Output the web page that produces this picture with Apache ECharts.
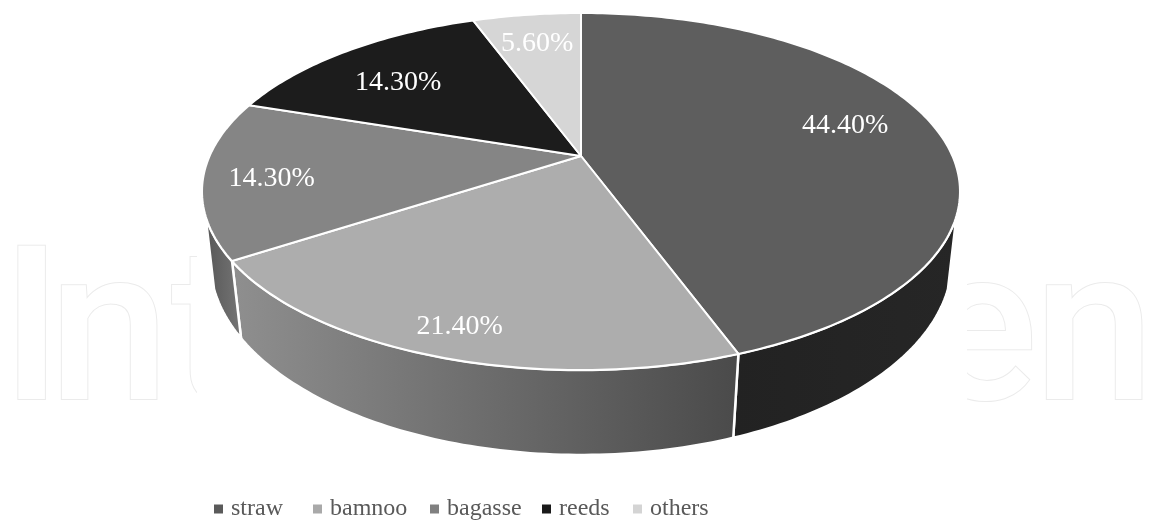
<!DOCTYPE html>
<html>
<head>
<meta charset="utf-8">
<style>html,body{margin:0;padding:0;background:#fff}#c{width:1150px;height:524px}</style>
<script src="https://cdn.jsdelivr.net/npm/echarts@6/dist/echarts.min.js"></script>
</head>
<body>
<div id="c"></div>
<script>
var categories = ['straw', 'bamnoo', 'bagasse', 'reeds', 'others'];
var values = [44.4, 21.4, 14.3, 14.3, 5.6];
var topColors = ['#5e5e5e', '#adadad', '#858585', '#1c1c1c', '#d6d6d6'];
var legendColors = ['#5a5a5a', '#a9a9a9', '#808080', '#1a1a1a', '#d4d4d4'];
var wallColors = [['#222222', '#262626'], ['#8f8f8f', '#4a4a4a'], ['#565656', '#767676'], null, null];
var labelRadius = [0.766, 0.868, 0.822, 0.7215, 0.779];
var labelTurn = [-5, 0, -1, -2.5, 0];
var legendLeft = [214, 313, 430, 542, 633];

// perspective of the disc: top face and bottom face
var topFace = {x: 581, y: 156, a: 371.4, b: 171.4, k: 0.199};
var bottomFace = {x: 581, y: 224, a: 364.6, b: 188, k: 0.186};
var wallFrom = 109, wallTo = 251;

function project(f, deg, r) {
  var t = deg * Math.PI / 180;
  var u = Math.sin(t) * r, v = -Math.cos(t) * r;
  var w = 1 - f.k * v;
  return [f.x + f.a * u / w, f.y + f.b * v / w];
}
function arc(f, d0, d1) {
  var pts = [], n = Math.max(2, Math.ceil(Math.abs(d1 - d0)));
  for (var i = 0; i <= n; i++) pts.push(project(f, d0 + (d1 - d0) * i / n, 1));
  return pts;
}
var total = values.reduce(function (s, v) { return s + v; }, 0);
var running = 0;
var series = categories.map(function (name, i) {
  var start = running; running += values[i];
  return {
    type: 'custom', name: name, coordinateSystem: 'none', z: 5, silent: true,
    itemStyle: {color: legendColors[i]},
    data: [[start, values[i]]],
    renderItem: function (params, api) {
      var d0 = api.value(0) / total * 360, d1 = (api.value(0) + api.value(1)) / total * 360;
      var children = [];
      var a = Math.max(d0, wallFrom), b = Math.min(d1, wallTo);
      if (b > a && wallColors[i]) {
        children.push({
          type: 'polygon', z2: 1,
          shape: {points: arc(topFace, a, b).concat(arc(bottomFace, b, a))},
          style: {
            fill: new echarts.graphic.LinearGradient(0, 0, 1, 0, [
              {offset: 0, color: wallColors[i][0]}, {offset: 1, color: wallColors[i][1]}]),
            stroke: '#fff', lineWidth: 2.5, lineJoin: 'round'
          }
        });
      }
      children.push({
        type: 'polygon', z2: 2,
        shape: {points: [[topFace.x, topFace.y]].concat(arc(topFace, d0, d1))},
        style: {fill: topColors[i], stroke: '#fff', lineWidth: 2, lineJoin: 'round'}
      });
      var p = project(topFace, (d0 + d1) / 2 + labelTurn[i], labelRadius[i]);
      children.push({
        type: 'text', z2: 3, x: p[0], y: p[1] + 2,
        style: {
          text: api.value(1).toFixed(2) + '%', fill: '#fff',
          font: '28px "Liberation Serif"', align: 'center', verticalAlign: 'middle'
        }
      });
      return {type: 'group', children: children};
    }
  };
});

var markLetters = [['I', 0], ['n', 48], ['t', 170], ['e', 921], ['n', 1033]];
var graphics = markLetters.map(function (m) {
  return {
    type: 'text', left: m[1], top: 236, z: 0, silent: true,
    style: {text: m[0], font: '500 216px Roboto', fill: '#fff', stroke: '#ebebeb', lineWidth: 2}
  };
});
graphics.push({
  type: 'rect', z: 1, silent: true, shape: {x: 197, y: 0, width: 770, height: 524},
  style: {fill: '#fff'}
});

var chart = echarts.init(document.getElementById('c'));
chart.setOption({
  backgroundColor: '#fff',
  animation: false,
  graphic: graphics,
  legend: categories.map(function (name, i) {
    return {
      left: legendLeft[i], top: 497, padding: 0, icon: 'rect', itemWidth: 9, itemHeight: 9,
      textStyle: {fontFamily: 'Liberation Serif', fontSize: 24, color: '#595959', padding: [0, 0, 0, 3]},
      data: [name]
    };
  }),
  series: series
});
</script>
</body>
</html>
